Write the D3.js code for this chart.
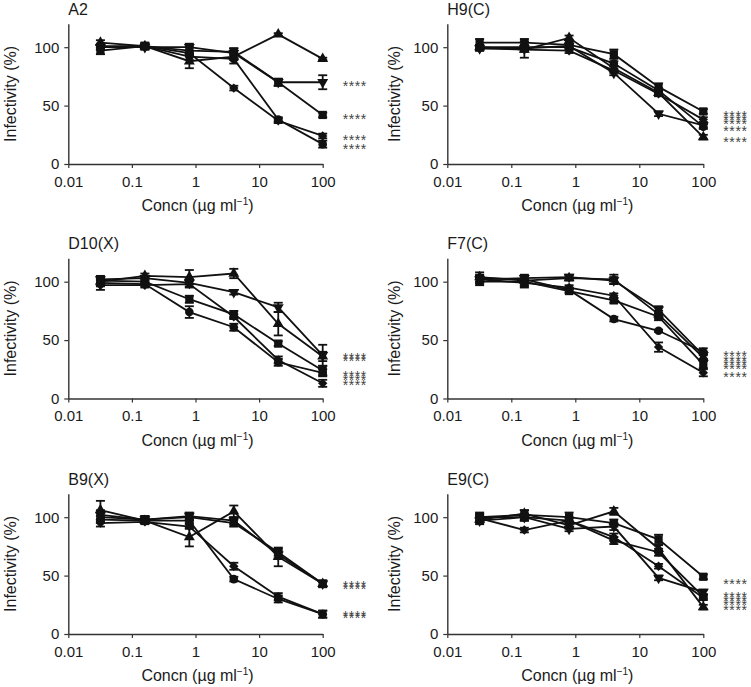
<!DOCTYPE html>
<html>
<head>
<meta charset="utf-8">
<script src="https://cdn.jsdelivr.net/npm/d3@7"></script>
<style>
  body { margin: 0; background: #fff; }
  svg { display: block; font-family: "Liberation Sans", Arial, Helvetica, sans-serif; }
</style>
</head>
<body>
<script>
// ---------------- DATA ----------------
const concentrations = [0.032, 0.16, 0.8, 4, 20, 100];
const xTickValues = [0.01, 0.1, 1, 10, 100];
const xTickLabels = ["0.01", "0.1", "1", "10", "100"];
const yTickValues = [0, 50, 100];
const seriesShapes = ["square", "circle", "triangleUp", "triangleDown", "diamond"];
const panelTitles = ["A2", "H9(C)", "D10(X)", "F7(C)", "B9(X)", "E9(C)"];

// means per series: square, circle, triangleUp, triangleDown, diamond
const a2Means = [
  [97, 101, 97, 96, 70, 42],
  [100, 101, 92, 90, 38, 17],
  [104, 101, 88, 92, 111, 90],
  [100, 100, 100, 95, 70, 70],
  [101, 101, 95, 65, 37, 24]
];
const a2Errors = [
  [3, 3, 3, 3, 3, 2],
  [2, 2, 3, 4, 2, 3],
  [2, 2, 6, 3, 1, 1],
  [2, 2, 3, 4, 3, 6],
  [2, 2, 2, 2, 2, 2]
];
const a2Stars = [69, 41, 23.5, 15];

const h9Means = [
  [104, 104, 102, 94, 66, 45],
  [100, 100, 100, 86, 63, 32],
  [100, 98, 108, 82, 61, 23],
  [99, 99, 101, 78, 43, 33],
  [99, 98, 97, 80, 60, 38]
];
const h9Errors = [
  [3, 3, 2, 4, 3, 2],
  [2, 2, 2, 2, 2, 2],
  [2, 7, 2, 2, 2, 2],
  [2, 2, 2, 2, 2, 2],
  [2, 2, 2, 2, 2, 2]
];
const h9Stars = [43.5, 40, 36.5, 31, 21.5];

const d10Means = [
  [101, 100, 85, 72, 47, 24],
  [99, 98, 74, 61, 31, 22],
  [100, 105, 104, 107, 64, 36],
  [102, 103, 99, 91, 78, 37],
  [97, 97, 98, 70, 33, 13]
];
const d10Errors = [
  [3, 2, 3, 3, 2, 4],
  [3, 2, 5, 3, 3, 3],
  [3, 2, 6, 4, 10, 4],
  [3, 2, 3, 2, 4, 9],
  [4, 2, 3, 2, 3, 3]
];
const d10Stars = [37, 34.5, 21.5, 18, 14.5];

const f7Means = [
  [100, 100, 92, 84, 70, 29],
  [103, 102, 93, 68, 58, 40],
  [104, 101, 103, 102, 72, 35],
  [102, 103, 104, 101, 76, 37],
  [102, 99, 95, 88, 44, 22]
];
const f7Errors = [
  [3, 5, 2, 2, 3, 3],
  [3, 3, 2, 2, 1, 3],
  [4, 4, 2, 4, 3, 3],
  [3, 3, 2, 3, 3, 3],
  [3, 3, 2, 2, 4, 3]
];
const f7Stars = [39, 35, 31.5, 28, 21];

const b9Means = [
  [100, 98, 100, 95, 70, 43],
  [98, 97, 97, 47, 30, 17],
  [106, 97, 83, 105, 66, 43],
  [102, 98, 101, 97, 68, 43],
  [95, 96, 92, 58, 32, 17]
];
const b9Errors = [
  [4, 3, 3, 3, 3, 3],
  [3, 2, 2, 2, 3, 3],
  [8, 2, 8, 5, 8, 2],
  [4, 3, 3, 3, 3, 2],
  [3, 2, 2, 3, 3, 3]
];
const b9Stars = [44, 41, 18, 16];

const e9Means = [
  [100, 102, 100, 95, 81, 49],
  [100, 100, 97, 80, 70, 32],
  [98, 103, 93, 105, 73, 23],
  [97, 100, 90, 92, 48, 36],
  [99, 89, 97, 83, 58, 31]
];
const e9Errors = [
  [4, 4, 4, 3, 4, 2],
  [3, 3, 2, 3, 3, 2],
  [3, 3, 3, 3, 3, 2],
  [3, 3, 2, 3, 2, 2],
  [3, 2, 3, 3, 2, 2]
];
const e9Stars = [45, 34, 30.5, 27, 23];

const panelMeans = [a2Means, h9Means, d10Means, f7Means, b9Means, e9Means];
const panelErrors = [a2Errors, h9Errors, d10Errors, f7Errors, b9Errors, e9Errors];
const panelStars = [a2Stars, h9Stars, d10Stars, f7Stars, b9Stars, e9Stars];

// ---------------- LAYOUT ----------------
const W = 751, H = 687;
const colX0 = [68.3, 447.3], colX1 = [322.7, 703.3];
const rowY0 = [164, 398.5, 634];
const pxPerUnit = 1.168;
const yMax = 120;
const ink = "#111";
const axisColor = "#333";

const svg = d3.select("body").append("svg").attr("width", W).attr("height", H);

function symbolPath(shape) {
  switch (shape) {
    case "square": return d3.symbol(d3.symbolSquare, 68)();
    case "circle": return d3.symbol(d3.symbolCircle, 58)();
    case "triangleUp": return d3.symbol(d3.symbolTriangle, 52)();
    case "triangleDown": return d3.symbol(d3.symbolTriangle, 52)();
    case "diamond": return d3.symbol(d3.symbolSquare, 44)();
  }
}
function symbolRotation(shape) {
  if (shape === "triangleDown") return 180;
  if (shape === "diamond") return 45;
  return 0;
}

panelTitles.forEach((title, i) => {
  const col = i % 2, row = Math.floor(i / 2);
  const x = d3.scaleLog().domain([0.01, 100]).range([colX0[col], colX1[col]]);
  const y = d3.scaleLinear().domain([0, yMax]).range([rowY0[row], rowY0[row] - yMax * pxPerUnit]);
  const g = svg.append("g");

  // axes
  const xAxis = d3.axisBottom(x).tickValues(xTickValues)
    .tickFormat((d, k) => xTickLabels[k]).tickSize(4).tickSizeOuter(0).tickPadding(8);
  const gx = g.append("g").attr("transform", `translate(0,${y(0)})`).call(xAxis);
  const yAxis = d3.axisLeft(y).tickValues(yTickValues).tickSize(4).tickSizeOuter(0).tickPadding(5);
  const gy = g.append("g").attr("transform", `translate(${x(0.01)},0)`).call(yAxis);
  [gx, gy].forEach(a => {
    a.selectAll("path.domain").attr("stroke", axisColor).attr("stroke-width", 1.4);
    a.selectAll(".tick line").attr("stroke", axisColor).attr("stroke-width", 1.2);
    a.selectAll(".tick text").attr("fill", "#1a1a1a")
      .style("font-size", "15px").style("font-family", '"Liberation Sans", Arial, sans-serif');
  });

  // title
  g.append("text").attr("x", x(0.01)).attr("y", y(yMax) - 9)
    .attr("font-size", 16).attr("fill", "#1a1a1a").text(title);

  // y label
  const yLabX = col === 0 ? 10 : 394;
  g.append("text")
    .attr("transform", `translate(${yLabX},${(y(0) + y(yMax)) / 2}) rotate(-90)`)
    .attr("text-anchor", "middle").attr("dy", "0.35em")
    .attr("font-size", 16).attr("fill", "#1a1a1a").text("Infectivity (%)");

  // x label
  const xl = g.append("text").attr("x", (x(0.01) + x(100)) / 2 + 2).attr("y", y(0) + 47)
    .attr("text-anchor", "middle").attr("font-size", 16).attr("fill", "#1a1a1a");
  xl.append("tspan").text("Concn (µg ml");
  xl.append("tspan").attr("dy", -6).attr("font-size", 10).text("−1");
  xl.append("tspan").attr("dy", 6).text(")");

  const means = panelMeans[i], errs = panelErrors[i];
  const line = d3.line().x((d, k) => x(concentrations[k])).y(d => y(d));

  // lines
  means.forEach(s => {
    g.append("path").attr("d", line(s)).attr("fill", "none")
      .attr("stroke", ink).attr("stroke-width", 1.8);
  });
  // error bars
  means.forEach((s, si) => {
    s.forEach((v, k) => {
      const e = errs[si][k];
      if (!e) return;
      const cx = x(concentrations[k]);
      const eg = g.append("g").attr("stroke", ink).attr("stroke-width", 1.8);
      eg.append("line").attr("x1", cx).attr("x2", cx).attr("y1", y(v - e)).attr("y2", y(v + e));
      eg.append("line").attr("x1", cx - 4.5).attr("x2", cx + 4.5).attr("y1", y(v - e)).attr("y2", y(v - e));
      eg.append("line").attr("x1", cx - 4.5).attr("x2", cx + 4.5).attr("y1", y(v + e)).attr("y2", y(v + e));
    });
  });
  // markers
  means.forEach((s, si) => {
    const shape = seriesShapes[si];
    const p = symbolPath(shape), rot = symbolRotation(shape);
    s.forEach((v, k) => {
      g.append("path").attr("d", p).attr("fill", ink)
        .attr("transform", `translate(${x(concentrations[k])},${y(v)}) rotate(${rot})`);
    });
  });

  // significance stars (overlapping in the original figure)
  panelStars[i].forEach(v => {
    g.append("text").attr("x", x(100) + 20).attr("y", y(v) + 8)
      .attr("font-size", 14).attr("fill", "#444").attr("letter-spacing", 0.6)
      .text("****");
  });
});
</script>
</body>
</html>
